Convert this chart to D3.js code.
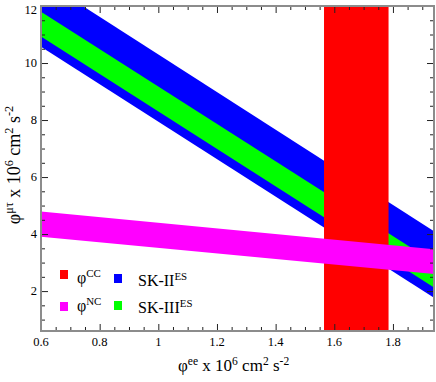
<!DOCTYPE html>
<html>
<head>
<meta charset="utf-8">
<script src="https://cdn.jsdelivr.net/npm/d3@7"></script>
<style>
  body { margin: 0; background: #fff; }
  svg { display: block; }
</style>
</head>
<body>
<div id="chart"></div>
<script>
// values
const xTicks = [0.6, 0.8, 1, 1.2, 1.4, 1.6, 1.8];
const yTicks = [2, 4, 6, 8, 10, 12];
const phiEE = [0.6, 1.94];            // band end points on the x axis
const sk2Hi = [12.94, 4.10];
const sk2Lo = [10.57, 1.77];
const sk3Hi = [11.80, 3.01];
const sk3Lo = [10.93, 2.13];
const ncHi = [4.79, 3.47];
const ncLo = [3.91, 2.60];
const ccBand = [1.565, 1.785];

const width = 436, height = 382;
const margin = {top: 6, right: 2, bottom: 51, left: 41};
const serif = "'Liberation Serif', 'DejaVu Serif', 'Times New Roman', serif";

const svg = d3.select("#chart").append("svg")
    .attr("width", width)
    .attr("height", height)
    .attr("font-family", serif)
    .style("font-family", serif);

const x = d3.scaleLinear().domain([0.6, 1.94]).range([margin.left, width - margin.right]);
const y = d3.scaleLinear().domain([0.6, 12]).range([height - margin.bottom, margin.top]);

svg.append("defs").append("clipPath").attr("id", "plot")
    .append("rect")
    .attr("x", x.range()[0]).attr("y", y.range()[1])
    .attr("width", x.range()[1] - x.range()[0])
    .attr("height", y.range()[0] - y.range()[1]);

const g = svg.append("g").attr("clip-path", "url(#plot)");

function band(hi, lo) {
    return d3.area()
        .x((d, i) => x(d))
        .y0((d, i) => y(lo[i]))
        .y1((d, i) => y(hi[i]))(phiEE);
}

g.append("path").attr("d", band(sk2Hi, sk2Lo)).attr("fill", "#0000ff");
g.append("path").attr("d", band(sk3Hi, sk3Lo)).attr("fill", "#00ff00");
g.append("rect")
    .attr("x", x(ccBand[0]))
    .attr("width", x(ccBand[1]) - x(ccBand[0]))
    .attr("y", y.range()[1])
    .attr("height", y.range()[0] - y.range()[1])
    .attr("fill", "#ff0000");
g.append("path").attr("d", band(ncHi, ncLo)).attr("fill", "#ff00ff");

// axes: ticks pointing inward on all four sides
const xMinor = d3.range(0.6, 1.9401, 0.05).filter(v => Math.abs(v * 5 - Math.round(v * 5)) > 1e-6);
const yMinor = d3.range(1, 12.001, 0.5).filter(v => v % 2 !== 0);

function tickSide(axisGen, transform) {
    const a = svg.append("g").attr("transform", transform).call(axisGen);
    a.select(".domain").remove();
    a.selectAll("line").attr("stroke", "#222");
    return a;
}

const x0 = x.range()[0], x1 = x.range()[1], y0 = y.range()[0], y1 = y.range()[1];

tickSide(d3.axisBottom(x).tickValues(xTicks).tickSize(-7).tickFormat(""), `translate(0,${y0})`);
tickSide(d3.axisBottom(x).tickValues(xMinor).tickSize(-4).tickFormat(""), `translate(0,${y0})`);
tickSide(d3.axisTop(x).tickValues(xTicks).tickSize(-7).tickFormat(""), `translate(0,${y1})`);
tickSide(d3.axisTop(x).tickValues(xMinor).tickSize(-4).tickFormat(""), `translate(0,${y1})`);
tickSide(d3.axisLeft(y).tickValues(yTicks).tickSize(-7).tickFormat(""), `translate(${x0},0)`);
tickSide(d3.axisLeft(y).tickValues(yMinor).tickSize(-4).tickFormat(""), `translate(${x0},0)`);
tickSide(d3.axisRight(y).tickValues(yTicks).tickSize(-7).tickFormat(""), `translate(${x1},0)`);
tickSide(d3.axisRight(y).tickValues(yMinor).tickSize(-4).tickFormat(""), `translate(${x1},0)`);

svg.append("rect")
    .attr("x", x0).attr("y", y1)
    .attr("width", x1 - x0).attr("height", y0 - y1)
    .attr("fill", "none")
    .attr("stroke", "#8c8c8c")
    .attr("stroke-width", 2);

// tick labels
svg.append("g").selectAll("text")
    .data(xTicks).enter().append("text")
    .attr("x", d => x(d))
    .attr("y", y0 + 15)
    .attr("text-anchor", "middle")
    .attr("font-size", "12.5px")
    .text(d => d3.format("~g")(d));

// top label sits a little lower so it is not cut by the window edge
svg.append("g").selectAll("text")
    .data(yTicks).enter().append("text")
    .attr("x", x0 - 4)
    .attr("y", d => Math.max(y(d) + 4, 14))
    .attr("text-anchor", "end")
    .attr("font-size", "12.5px")
    .text(d => d);

// rich label helper: parts = [[text, sup?], ...]
function richText(sel, parts, size) {
    parts.forEach(([t, sup]) => {
        sel.append("tspan")
            .attr("font-size", sup ? (size * 0.68) + "px" : size + "px")
            .attr("baseline-shift", sup ? "super" : null)
            .text(t);
    });
}

const xTitle = svg.append("text")
    .attr("x", 178).attr("y", 371);
richText(xTitle, [["\u03c6"], ["ee", 1], [" x 10"], ["6", 1], [" cm"], ["2", 1], [" s"], ["-2", 1]], 17);

const yTitle = svg.append("text")
    .attr("transform", "translate(20,165) rotate(-90)")
    .attr("text-anchor", "middle");
richText(yTitle, [["\u03c6"], ["\u03bc\u03c4", 1], [" x 10"], ["6", 1], [" cm"], ["2", 1], [" s"], ["-2", 1]], 18);

// legend
const legendItems = [
    {color: "#ff0000", sx: 60, sy: 270, tx: 77, ty: 283, label: [["\u03c6"], ["CC", 1]]},
    {color: "#ff00ff", sx: 60, sy: 302, tx: 77, ty: 311, label: [["\u03c6"], ["NC", 1]]},
    {color: "#0000ff", sx: 114, sy: 274, tx: 138, ty: 286, label: [["SK-II"], ["ES", 1]]},
    {color: "#00ff00", sx: 114, sy: 301, tx: 138, ty: 313, label: [["SK-III"], ["ES", 1]]}
];

legendItems.forEach(d => {
    svg.append("rect")
        .attr("x", d.sx).attr("y", d.sy)
        .attr("width", 8).attr("height", 9)
        .attr("fill", d.color);
    const t = svg.append("text").attr("x", d.tx).attr("y", d.ty);
    richText(t, d.label, 16);
});
</script>
</body>
</html>
